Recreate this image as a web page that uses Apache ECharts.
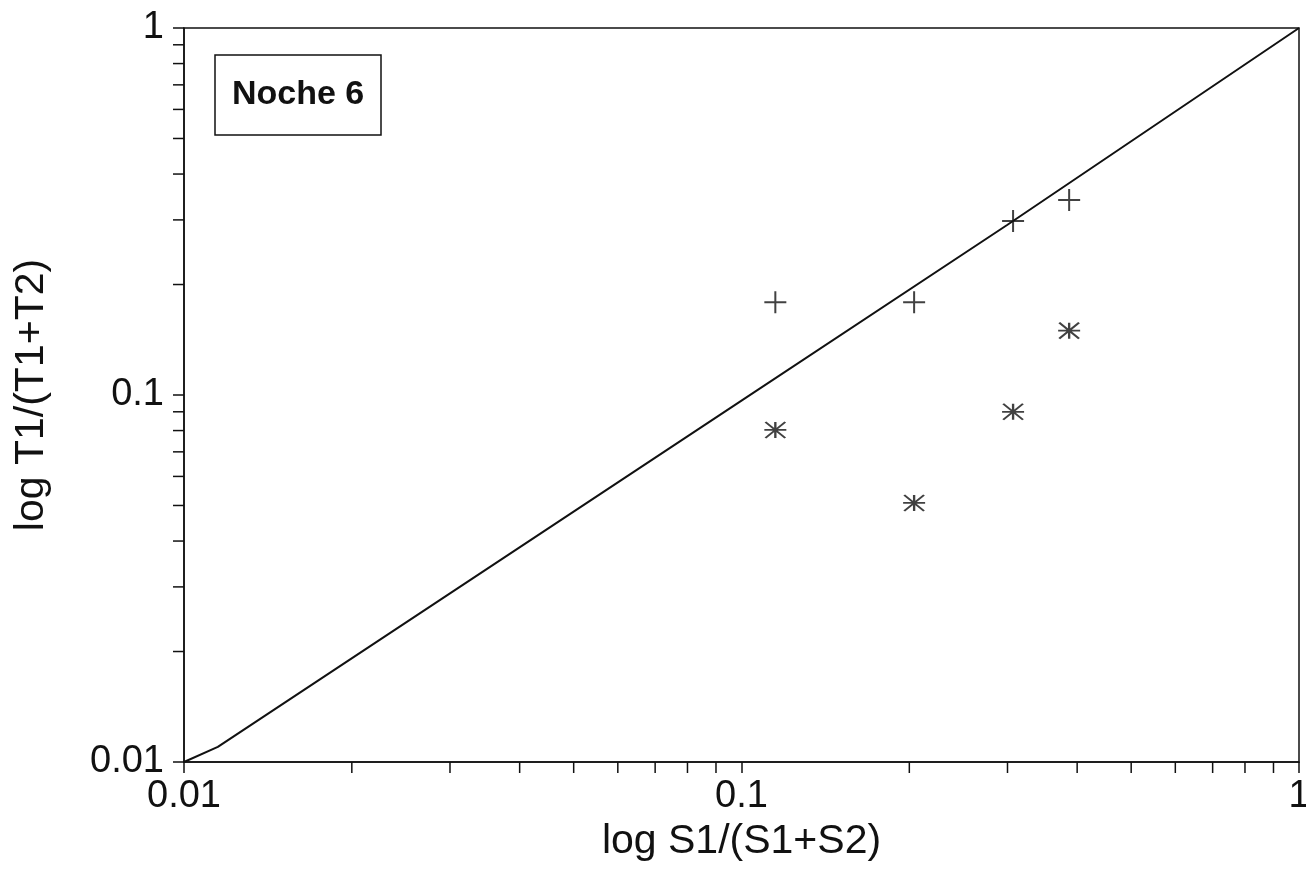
<!DOCTYPE html>
<html>
<head>
<meta charset="utf-8">
<script src="https://cdn.jsdelivr.net/npm/echarts@6/dist/echarts.min.js"></script>
<style>
html,body{margin:0;padding:0;background:#fff;}
#chart{width:1306px;height:870px;}
</style>
</head>
<body>
<div id="chart"></div>
<script>
// Data
const plusX = [0.115, 0.204, 0.307, 0.387];
const plusY = [0.179, 0.179, 0.298, 0.340];
const starX = [0.115, 0.204, 0.307, 0.387];
const starY = [0.0803, 0.0508, 0.0900, 0.1497];
const lineX = [0.01, 0.0115, 0.1, 0.3, 1];
const lineY = [0.01, 0.0110, 0.0965, 0.291, 1];
const minorTicks = [0.02,0.03,0.04,0.05,0.06,0.07,0.08,0.09,0.2,0.3,0.4,0.5,0.6,0.7,0.8,0.9];
const titleText = 'Noche 6';
const xName = 'log S1/(S1+S2)';
const yName = 'log T1/(T1+T2)';

const FONT = '"Liberation Sans", Arial, Helvetica, sans-serif';
const pair = (xs, ys) => xs.map((x, i) => [x, ys[i]]);

const chart = echarts.init(document.getElementById('chart'), null, {renderer: 'canvas'});
const TICK = 11;
const option = {
  backgroundColor: '#fff',
  animation: false,
  title: {
    text: titleText,
    left: 215, top: 55,
    padding: [23, 17, 23, 17],
    borderWidth: 1.5, borderColor: '#111',
    textStyle: {fontFamily: FONT, fontWeight: 'bold', fontSize: 34, color: '#111'}
  },
  grid: {left: 184, right: 7, top: 28, bottom: 108, outerBoundsMode: 'none', containLabel: false,
         show: true, borderColor: '#111', borderWidth: 1.5, backgroundColor: 'transparent'},
  xAxis: {
    type: 'log', logBase: 10, min: 0.01, max: 1,
    name: xName, nameLocation: 'middle', nameGap: 52,
    nameTextStyle: {fontFamily: FONT, fontSize: 41, color: '#111'},
    axisLine: {lineStyle: {color: '#111', width: 1.5}},
    axisTick: {show: true, inside: false, length: TICK, lineStyle: {color: '#111', width: 1.5}},
    axisLabel: {fontFamily: FONT, fontSize: 38, color: '#111', margin: 16, showMaxLabel: true, showMinLabel: true, hideOverlap: false},
    splitLine: {show: false}
  },
  yAxis: {
    type: 'log', logBase: 10, min: 0.01, max: 1,
    name: yName, nameLocation: 'middle', nameGap: 132, nameRotate: 90,
    nameTextStyle: {fontFamily: FONT, fontSize: 41, color: '#111'},
    axisLine: {lineStyle: {color: '#111', width: 1.5}},
    axisTick: {show: true, inside: false, length: TICK, lineStyle: {color: '#111', width: 1.5}},
    axisLabel: {fontFamily: FONT, fontSize: 38, color: '#111', margin: 20, showMaxLabel: true, showMinLabel: true, hideOverlap: false},
    splitLine: {show: false}
  },
  series: [
    {
      type: 'line', data: pair(lineX, lineY), showSymbol: false, symbol: 'none',
      lineStyle: {color: '#111', width: 2}, z: 2
    },
    {
      type: 'scatter', data: pair(plusX, plusY),
      symbol: 'path://M0,-1L0,1M-1,0L1,0', symbolSize: [22, 22],
      itemStyle: {color: 'none', borderColor: '#111', borderWidth: 2}, z: 3
    },
    {
      type: 'scatter', data: pair(starX, starY),
      symbol: 'path://M-1,0L1,0M0,-0.7L0,0.7M-0.9,-0.7L0.9,0.7M-0.9,0.7L0.9,-0.7', symbolSize: [22, 16],
      itemStyle: {color: 'none', borderColor: '#111', borderWidth: 2}, z: 3
    },
    {
      type: 'custom', clip: false, silent: true,
      data: minorTicks.map(v => [v, 0.01]),
      renderItem: function (params, api) {
        const p = api.coord([api.value(0), api.value(1)]);
        return {type: 'line', shape: {x1: p[0], y1: p[1], x2: p[0], y2: p[1] + TICK}, style: {stroke: '#111', lineWidth: 1.5}};
      }, z: 4
    },
    {
      type: 'custom', clip: false, silent: true,
      data: minorTicks.map(v => [0.01, v]),
      renderItem: function (params, api) {
        const p = api.coord([api.value(0), api.value(1)]);
        return {type: 'line', shape: {x1: p[0] - TICK, y1: p[1], x2: p[0], y2: p[1]}, style: {stroke: '#111', lineWidth: 1.5}};
      }, z: 4
    }
  ]
};
chart.setOption(option);
</script>
</body>
</html>
